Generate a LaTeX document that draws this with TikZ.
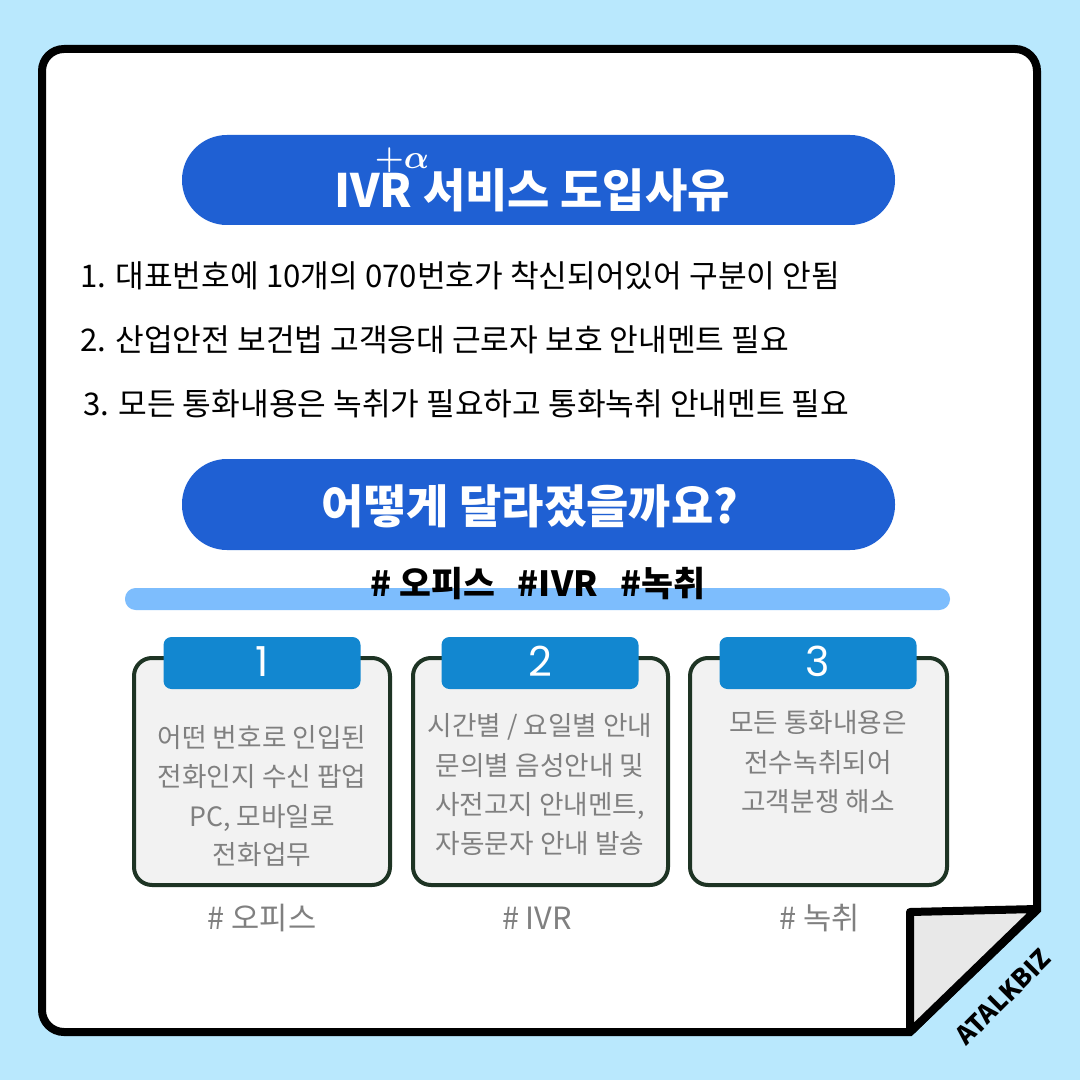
\documentclass[tikz,border=0pt]{standalone}
\usepackage{fontspec}
\setmainfont{Noto Sans CJK KR}
\newfontfamily\heavyfont{Noto Sans CJK KR Black}
\newfontfamily\numfont{Poppins}
\usepackage{tikz}
\usetikzlibrary{calc}

\begin{document}
\begin{tikzpicture}[x=0.75pt,y=0.75pt,yscale=-1,xscale=1,
  pillbox/.style={draw opacity=0,fill={rgb, 255:red, 31; green, 96; blue, 211 },fill opacity=1,rounded corners=33.7pt},
  cardbox/.style={color={rgb, 255:red, 30; green, 52; blue, 36 },draw opacity=1,fill={rgb, 255:red, 242; green, 242; blue, 242 },fill opacity=1,line width=3pt,rounded corners=13.5pt},
  tabbox/.style={draw opacity=0,fill={rgb, 255:red, 18; green, 135; blue, 208 },fill opacity=1,rounded corners=6pt},
  headtext/.style={anchor=base,inner sep=0pt,text={rgb, 255:red, 255; green, 255; blue, 255 },font=\heavyfont\fontsize{34.5}{34.5}\selectfont},
  listtext/.style={anchor=base west,inner sep=0pt,text={rgb, 255:red, 0; green, 0; blue, 0 },font=\fontsize{23.4}{23.4}\selectfont},
  cardtext/.style={anchor=base,inner sep=0pt,text={rgb, 255:red, 128; green, 128; blue, 128 },font=\fontsize{20}{20}\selectfont},
  tagtext/.style={anchor=base,inner sep=0pt,text={rgb, 255:red, 128; green, 128; blue, 128 },font=\fontsize{23}{23}\selectfont},
  numtext/.style={anchor=base,inner sep=0pt,text={rgb, 255:red, 255; green, 255; blue, 255 },font=\numfont\fontsize{31}{31}\selectfont}
]
%Shape: Rectangle [background]
\fill [fill={rgb, 255:red, 185; green, 232; blue, 253 }] (0,0) rectangle (1080,1080) ;
%Shape: Frame with cut corner
\draw [line width=6pt,fill={rgb, 255:red, 255; green, 255; blue, 255 }] (476,1032) [rounded corners=16.5pt] -- (42,1032) -- (42,49) -- (1037,49) [sharp corners] -- (1037,910) -- (910,1032) -- cycle ;
%Shape: Folded corner
\draw [line width=6pt,line join=round,fill={rgb, 255:red, 232; green, 232; blue, 232 },fill opacity=1] (910,912) -- (1037,909) -- (910,1032) -- cycle ;
\node [rotate=45,inner sep=0pt,font=\bfseries\fontsize{19}{19}\selectfont] (brand) at (1003,997) {ATALKBIZ};

%Shape: Pill [title]
\fill [pillbox] (182,135) rectangle (895,225) ;
\node [headtext] (title) at (532,208) {IVR 서비스 도입사유};
\node [anchor=base,inner sep=0pt,text={rgb, 255:red, 255; green, 255; blue, 255 },font=\boldmath\fontsize{34}{34}\selectfont] (alpha) at (402,169) {$+\alpha$};

%Text: reasons
\node [listtext] (reason1) at (80,288) {1. 대표번호에 10개의 070번호가 착신되어있어 구분이 안됨};
\node [listtext] (reason2) at (80,351) {2. 산업안전 보건법 고객응대 근로자 보호 안내멘트 필요};
\node [listtext] (reason3) at (83,415) {3. 모든 통화내용은 녹취가 필요하고 통화녹취 안내멘트 필요};

%Shape: Pill [changes]
\fill [pillbox] (182,459) rectangle (895,550) ;
\node [headtext] (changes) at (530,523) {어떻게 달라졌을까요?};

%Shape: Bar [hashtags]
\fill [fill={rgb, 255:red, 125; green, 189; blue, 253 },rounded corners=8pt] (125,588) rectangle (950,610) ;
\node [anchor=base,inner sep=0pt,font=\heavyfont\fontsize{26}{26}\selectfont] (tags) at (538,596) {\# 오피스\hspace{17pt}\#IVR\hspace{17pt}\#녹취};

%Card 1
\draw [cardbox] (134,658) rectangle (390,885) ;
\fill [tabbox] (163.5,637) rectangle (360.5,689) ;
\node [numtext] (num1) at (262,676) {1};
\node [cardtext] (c1a) at (262,747) {어떤 번호로 인입된};
\node [cardtext] (c1b) at (262,786) {전화인지 수신 팝업};
\node [cardtext] (c1c) at (262,826) {PC, 모바일로};
\node [cardtext] (c1d) at (262,864) {전화업무};
\node [tagtext] (tag1) at (262,929) {\# 오피스};

%Card 2
\draw [cardbox] (413,658) rectangle (668,885) ;
\fill [tabbox] (441.5,637) rectangle (638.5,689) ;
\node [numtext] (num2) at (540,676) {2};
\node [cardtext] (c2a) at (540,735) {시간별 / 요일별 안내};
\node [cardtext] (c2b) at (540,775) {문의별 음성안내 및};
\node [cardtext] (c2c) at (540,814) {사전고지 안내멘트,};
\node [cardtext] (c2d) at (540,853) {자동문자 안내 발송};
\node [tagtext] (tag2) at (537,929) {\# IVR};

%Card 3
\draw [cardbox] (690,658) rectangle (947,885) ;
\fill [tabbox] (719.5,637) rectangle (916.5,689) ;
\node [numtext] (num3) at (818,676) {3};
\node [cardtext] (c3a) at (818,732) {모든 통화내용은};
\node [cardtext] (c3b) at (818,772) {전수녹취되어};
\node [cardtext] (c3c) at (818,811) {고객분쟁 해소};
\node [tagtext] (tag3) at (820,929) {\# 녹취};
\end{tikzpicture}
\end{document}
